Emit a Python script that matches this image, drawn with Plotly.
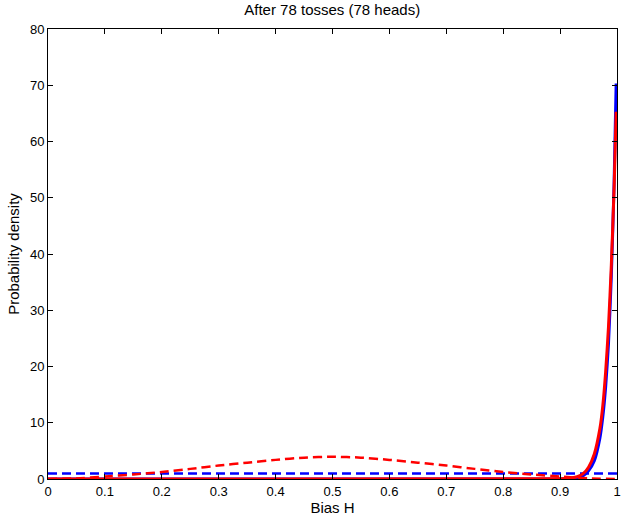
import plotly.graph_objects as go

# Bias grid / readings
x_prior = [0, 0.05, 0.1, 0.15, 0.2, 0.25, 0.3, 0.35, 0.4, 0.45, 0.5,
           0.55, 0.6, 0.65, 0.7, 0.75, 0.8, 0.85, 0.9, 0.95, 1.0]
uniform_prior = [1.0] * len(x_prior)
bump_prior = [0, 0.1, 0.45, 0.8, 1.25, 1.8, 2.4, 2.9, 3.4, 3.8, 3.95,
              3.8, 3.4, 2.9, 2.4, 1.8, 1.25, 0.8, 0.45, 0.1, 0]

x_post = [0, 0.9, 0.92, 0.93, 0.94, 0.95, 0.96, 0.97, 0.975, 0.98,
          0.985, 0.99, 0.995, 0.9985]
post_uniform = [0, 0.02, 0.1, 0.2, 0.55, 1.45, 3.2, 7.3, 11, 16.3, 24, 36, 53, 70.3]
post_bump = [0, 0.05, 0.2, 0.4, 0.9, 2.1, 4.4, 9.0, 13, 19, 27, 38, 52, 65.3]

title_text = "After 78 tosses (78 heads)"
x_label = "Bias H"
y_label = "Probability density"
x_ticks = [0, 0.1, 0.2, 0.3, 0.4, 0.5, 0.6, 0.7, 0.8, 0.9, 1]
x_tick_text = ["0", "0.1", "0.2", "0.3", "0.4", "0.5", "0.6", "0.7", "0.8", "0.9", "1"]
y_ticks = [0, 10, 20, 30, 40, 50, 60, 70, 80]

BLUE = "#0000ff"
RED = "#ff0000"

fig = go.Figure()
fig.add_trace(go.Scatter(x=x_prior, y=uniform_prior, mode="lines",
                         line=dict(color=BLUE, width=2.5, dash="9px,5px")))
fig.add_trace(go.Scatter(x=x_post, y=post_uniform, mode="lines",
                         line=dict(color=BLUE, width=3, shape="spline", smoothing=0.6)))
fig.add_trace(go.Scatter(x=x_prior, y=bump_prior, mode="lines",
                         line=dict(color=RED, width=2.5, dash="9px,5px", shape="spline", smoothing=0.6)))
fig.add_trace(go.Scatter(x=x_post, y=post_bump, mode="lines",
                         line=dict(color=RED, width=3, shape="spline", smoothing=0.6)))

font_family = "Liberation Sans, Arial, Helvetica, sans-serif"
axis_common = dict(showline=True, linecolor="black", linewidth=1, mirror="allticks",
                   ticks="inside", ticklen=5, tickcolor="black", showgrid=False,
                   zeroline=False, ticklabeloverflow="allow", automargin=False,
                   tickfont=dict(size=13, color="black", family=font_family))

fig.update_layout(
    width=621, height=517,
    margin=dict(l=48, r=4, t=29, b=38),
    paper_bgcolor="white", plot_bgcolor="white",
    showlegend=False,
    font=dict(family=font_family, color="black"),
    title=dict(text=title_text, x=0.535, xanchor="center", y=0.982, yanchor="middle",
               font=dict(size=15, color="black", family=font_family)),
)
fig.update_xaxes(range=[0, 1], tickvals=x_ticks, ticktext=x_tick_text,
                 title=dict(text=x_label, standoff=2, font=dict(size=15, color="black", family=font_family)),
                 **axis_common)
fig.update_yaxes(range=[0, 80], tickvals=y_ticks,
                 title=dict(text=y_label, standoff=6, font=dict(size=15, color="black", family=font_family)),
                 **axis_common)

fig.write_html("out.html")
